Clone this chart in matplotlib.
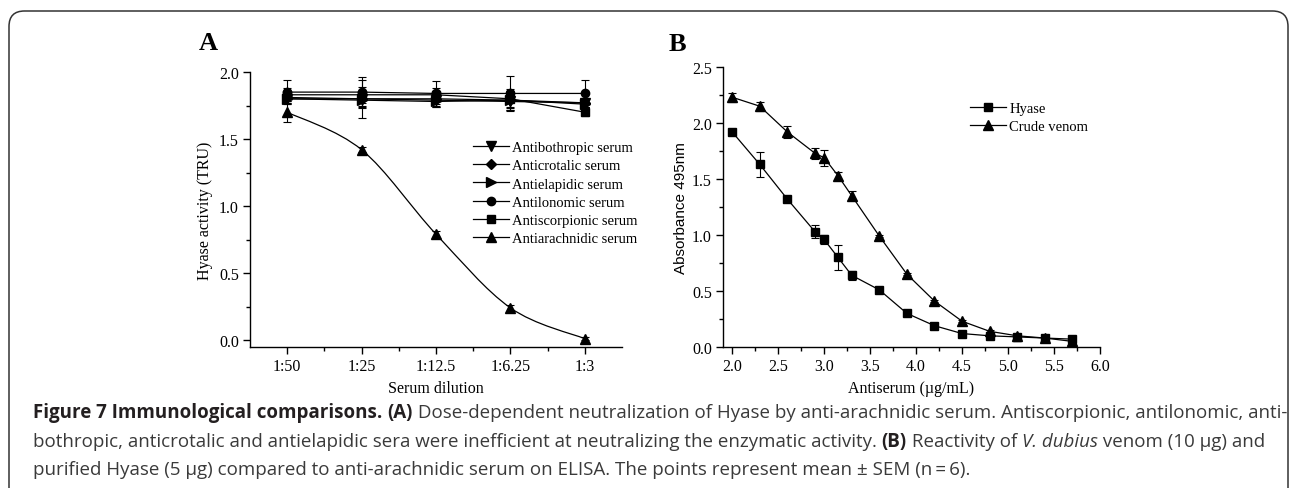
import numpy as np
import matplotlib
matplotlib.use('Agg')
import matplotlib.pyplot as plt
from matplotlib.path import Path
from matplotlib.patches import PathPatch, FancyBboxPatch
from matplotlib.lines import Line2D

# ---- data, panel A ----
dilutions = ['1:50', '1:25', '1:12.5', '1:6.25', '1:3']
series_a = ['Antibothropic serum', 'Anticrotalic serum', 'Antielapidic serum',
            'Antilonomic serum', 'Antiscorpionic serum', 'Antiarachnidic serum']
bothropic = [1.80, 1.80, 1.79, 1.78, 1.77]
bothropic_err = [0.04, 0.14, 0.05, 0.06, 0.03]
crotalic = [1.81, 1.80, 1.80, 1.79, 1.77]
crotalic_err = [0.03, 0.05, 0.04, 0.05, 0.03]
elapidic = [1.80, 1.79, 1.78, 1.79, 1.76]
elapidic_err = [0.03, 0.06, 0.04, 0.07, 0.02]
lonomic = [1.85, 1.85, 1.84, 1.84, 1.84]
lonomic_err = [0.09, 0.11, 0.09, 0.13, 0.10]
scorpionic = [1.83, 1.83, 1.83, 1.80, 1.70]
scorpionic_err = [0.05, 0.06, 0.05, 0.07, 0.03]
arachnidic = [1.70, 1.42, 0.79, 0.24, 0.01]
arachnidic_err = [0.07, 0.02, 0.02, 0.02, 0.01]

# ---- data, panel B ----
antiserum = [2.0, 2.3, 2.6, 2.9, 3.0, 3.15, 3.3, 3.6, 3.9, 4.2, 4.5, 4.8, 5.1, 5.4, 5.7]
hyase = [1.92, 1.63, 1.32, 1.03, 0.96, 0.80, 0.64, 0.51, 0.30, 0.19, 0.12, 0.10, 0.09, 0.08, 0.07]
hyase_err = [0.01, 0.11, 0.02, 0.06, 0.04, 0.11, 0.04, 0.01, 0.01, 0.01, 0.01, 0.01, 0.01, 0.01, 0.01]
venom = [2.23, 2.15, 1.92, 1.73, 1.69, 1.53, 1.35, 0.99, 0.65, 0.41, 0.23, 0.14, 0.10, 0.08, 0.05]
venom_err = [0.04, 0.04, 0.05, 0.05, 0.07, 0.03, 0.04, 0.01, 0.01, 0.01, 0.01, 0.01, 0.01, 0.01, 0.01]

W, H = 1290, 489
serif = 'Liberation Serif'
fig = plt.figure(figsize=(W / 100, H / 100), dpi=100)

def fx(px):
    return px / W

def fy(py):
    return 1 - py / H

# rounded frame round the figure (open at the bottom)
frame = FancyBboxPatch((fx(9), -0.1), fx(1288) - fx(9), fy(12) + 0.1,
                       boxstyle='round,pad=0,rounding_size=0.012',
                       transform=fig.transFigure, fill=False,
                       edgecolor='#333333', linewidth=1.1, mutation_aspect=W / H)
fig.patches.append(frame)


def style_axes(ax):
    for s in ['top', 'right']:
        ax.spines[s].set_visible(False)
    for s in ['left', 'bottom']:
        ax.spines[s].set_linewidth(1.0)
    ax.tick_params(which='major', direction='out', length=5, width=1.0,
                   labelsize=11.5, pad=3)
    ax.tick_params(which='minor', direction='out', length=3, width=1.0)
    for lab in ax.get_xticklabels() + ax.get_yticklabels():
        lab.set_family(serif)


leg_opts = dict(loc='upper left', bbox_transform=fig.transFigure, frameon=False,
                borderpad=0, borderaxespad=0, handlelength=2.5, handletextpad=0.2,
                labelspacing=0.34, prop={'family': serif, 'size': 10.5})

# ---------------- panel A ----------------
axA = fig.add_axes([fx(250), fy(348), fx(622) - fx(250), (348 - 73) / H])
xpos = np.arange(1, len(dilutions) + 1)
markers = ['v', 'D', '>', 'o', 's', '^']
msizes = [6.5, 5.5, 6.5, 6.0, 5.5, 7.0]
vals = [bothropic, crotalic, elapidic, lonomic, scorpionic, arachnidic]
errs = [bothropic_err, crotalic_err, elapidic_err, lonomic_err, scorpionic_err, arachnidic_err]
handles_a = []
for name, m, ms, v, e in zip(series_a, markers, msizes, vals, errs):
    axA.errorbar(xpos, v, yerr=e, fmt=m, color='black', ms=ms, elinewidth=0.8,
                 capsize=3, capthick=0.8, zorder=3)
    if name == 'Antiarachnidic serum':
        # spline-style connector through the points (Origin "spline" line)
        pts = np.column_stack([xpos, v]).astype(float)
        ext = np.vstack([pts[0], pts, pts[-1]])
        verts = [tuple(pts[0])]
        codes = [Path.MOVETO]
        for i in range(len(pts) - 1):
            p0, p1, p2, p3 = ext[i], ext[i + 1], ext[i + 2], ext[i + 3]
            verts += [tuple(p1 + (p2 - p0) / 6), tuple(p2 - (p3 - p1) / 6), tuple(p2)]
            codes += [Path.CURVE4] * 3
        axA.add_patch(PathPatch(Path(verts, codes), fill=False, lw=0.9, color='black'))
    else:
        axA.plot(xpos, v, '-', color='black', lw=0.9)
    handles_a.append(Line2D([], [], marker=m, ms=ms, color='black', lw=0.9, label=name))

axA.set_xlim(0.5, 5.5)
axA.set_ylim(-0.052, 2.0)
axA.set_xticks(xpos)
axA.set_xticklabels(dilutions)
axA.set_xticks(xpos[:-1] + 0.5, minor=True)
axA.set_yticks([0.0, 0.5, 1.0, 1.5, 2.0])
axA.set_yticklabels(['0.0', '0.5', '1.0', '1.5', '2.0'])
axA.set_yticks([0.25, 0.75, 1.25, 1.75], minor=True)
style_axes(axA)
axA.set_xlabel('Serum dilution', family=serif, fontsize=11.5, labelpad=4)
axA.set_ylabel('Hyase activity (TRU)', family=serif, fontsize=11.5, labelpad=4)
axA.legend(handles=handles_a, bbox_to_anchor=(fx(473), fy(142)), **leg_opts)
fig.text(fx(199), fy(50), 'A', family=serif, fontsize=19, fontweight='bold')

# ---------------- panel B ----------------
axB = fig.add_axes([fx(723), fy(348), fx(1100) - fx(723), (348 - 68) / H])
axB.errorbar(antiserum, hyase, yerr=hyase_err, fmt='-s', color='black', ms=5.5,
             lw=0.9, elinewidth=0.8, capsize=3, capthick=0.8)
axB.errorbar(antiserum, venom, yerr=venom_err, fmt='-^', color='black', ms=7,
             lw=0.9, elinewidth=0.8, capsize=3, capthick=0.8)
axB.set_xlim(1.9, 6.0)
axB.set_ylim(0, 2.5)
xt = np.arange(2.0, 6.01, 0.5)
axB.set_xticks(xt)
axB.set_xticklabels(['%.1f' % t for t in xt])
axB.set_xticks(xt[:-1] + 0.25, minor=True)
yt = np.arange(0.0, 2.51, 0.5)
axB.set_yticks(yt)
axB.set_yticklabels(['%.1f' % t for t in yt])
axB.set_yticks(yt[:-1] + 0.25, minor=True)
style_axes(axB)
axB.set_xlabel('Antiserum (\u00b5g/mL)', family=serif, fontsize=11.5, labelpad=4)
axB.set_ylabel('Absorbance 495nm', family='Liberation Sans', fontsize=11, labelpad=3)
handles_b = [Line2D([], [], marker='s', ms=5.5, color='black', lw=0.9, label='Hyase'),
             Line2D([], [], marker='^', ms=7, color='black', lw=0.9, label='Crude venom')]
axB.legend(handles=handles_b, bbox_to_anchor=(fx(970), fy(103)), **leg_opts)
fig.text(fx(669), fy(51), 'B', family=serif, fontsize=19, fontweight='bold')

# ---------------- caption ----------------
cap_font = 'Open Sans'
cap_lines = [
    [('Figure 7 Immunological comparisons.', 'bold', 'normal'), (' ', 'normal', 'normal'),
     ('(A)', 'bold', 'normal'),
     (' Dose-dependent neutralization of Hyase by anti-arachnidic serum. '
      'Antiscorpionic, antilonomic, anti-', 'normal', 'normal')],
    [('bothropic, anticrotalic and antielapidic sera were inefficient at neutralizing '
      'the enzymatic activity. ', 'normal', 'normal'), ('(B)', 'bold', 'normal'),
     (' Reactivity of ', 'normal', 'normal'), ('V. dubius', 'normal', 'italic'),
     (' venom (10 \u00b5g) and', 'normal', 'normal')],
    [('purified Hyase (5 \u00b5g) compared to anti-arachnidic serum on ELISA. '
      'The points represent mean \u00b1 SEM (n\u2009=\u20096).', 'normal', 'normal')],
]
cap_base = [418, 447, 475]
renderer = fig.canvas.get_renderer()


def run_width(text, weight, style, size):
    t = fig.text(0, 0, '|' + text + '|', family=cap_font, fontsize=size,
                 fontweight=weight, style=style)
    bars = fig.text(0, 0, '||', family=cap_font, fontsize=size,
                    fontweight=weight, style=style)
    w = t.get_window_extent(renderer).width - bars.get_window_extent(renderer).width
    t.remove()
    bars.remove()
    return w


size = 12
w1 = sum(run_width(t, wt, st, size) for t, wt, st in cap_lines[0])
size = size * (1280 - 33) / w1

for runs, base in zip(cap_lines, cap_base):
    x = 33
    for text, weight, style in runs:
        color = '#231f20' if weight == 'bold' else '#3a3a3a'
        fig.text(fx(x), fy(base), text, family=cap_font, fontsize=size,
                 fontweight=weight, style=style, color=color, va='baseline')
        x += run_width(text, weight, style, size)

fig.savefig('out.png', dpi=100)
